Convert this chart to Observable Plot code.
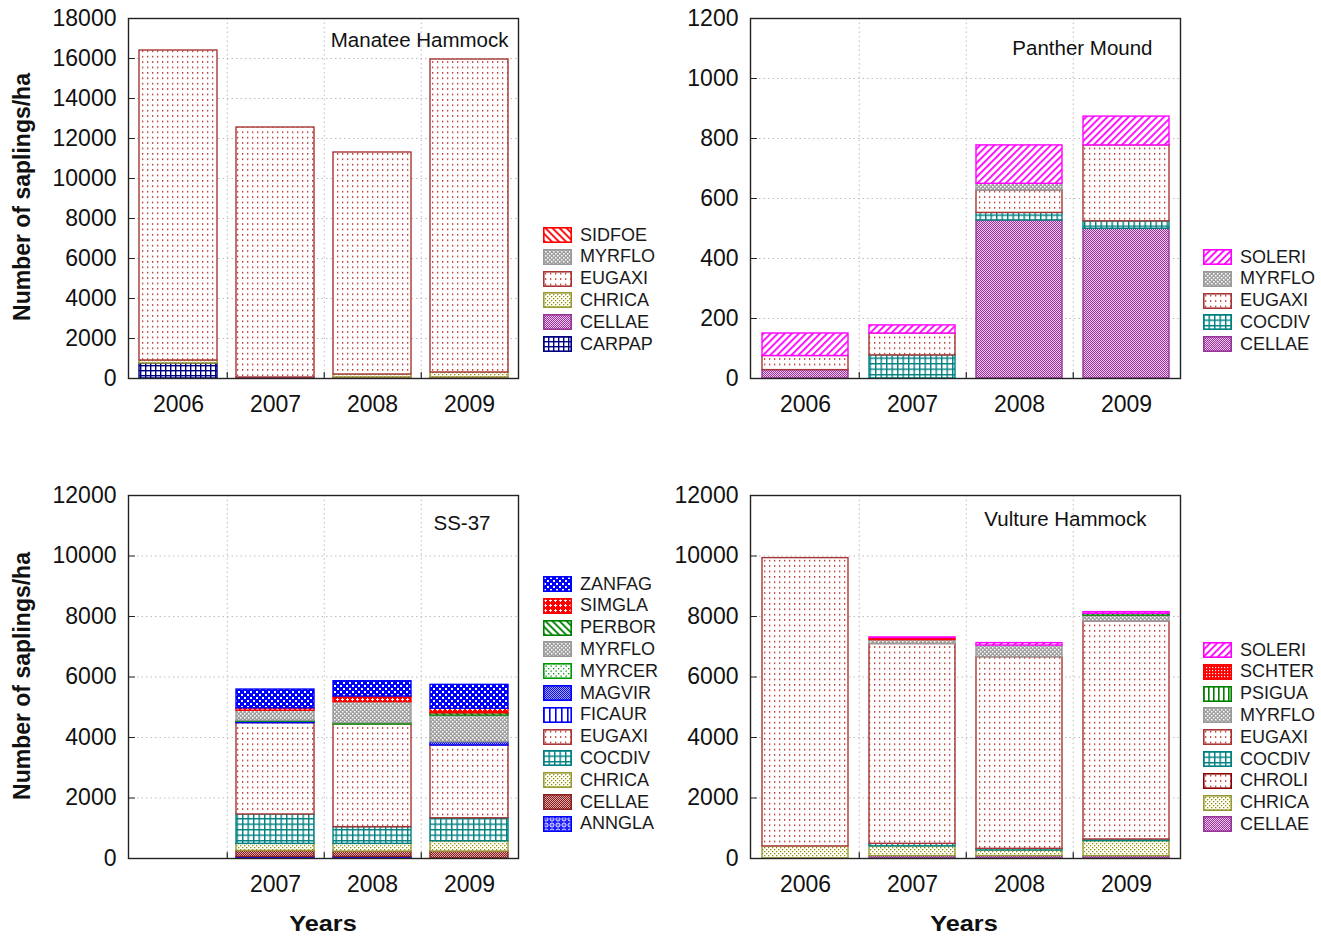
<!DOCTYPE html>
<html><head><meta charset="utf-8">
<script src="https://cdn.jsdelivr.net/npm/d3@7"></script>
<script src="https://cdn.jsdelivr.net/npm/@observablehq/plot@0.6"></script>
<style>
body{margin:0;background:#fff;font-family:"Liberation Sans",Arial,sans-serif;}
#root{position:relative;width:1321px;height:938px;overflow:hidden;}
.panel{position:absolute;}
.lrow{position:absolute;height:16px;display:flex;align-items:center;font-size:18px;color:#1a1a1a;white-space:nowrap;}
.lrow svg{margin-right:8px;flex:none;}
.ytitle{position:absolute;font-weight:bold;font-size:23px;color:#111;transform:translate(-50%,-50%) rotate(-90deg);white-space:nowrap;}
.xtitle{position:absolute;font-weight:bold;font-size:22px;color:#111;transform:translate(-50%,-50%) scaleX(1.15);white-space:nowrap;}
</style></head>
<body>
<svg width="0" height="0" style="position:absolute"><defs id="pdefs"></defs></svg>
<div id="root"></div>
<script>
// ---------------- DATA ----------------
const years = ["2006", "2007", "2008", "2009"];

// Manatee Hammock (stack order bottom -> top)
const manateeSpecies = ["CARPAP", "CELLAE", "CHRICA", "EUGAXI", "MYRFLO", "SIDFOE"];
const manateeValues = [
  [750, 0, 0, 0],          // CARPAP
  [0, 50, 50, 50],         // CELLAE
  [150, 0, 150, 250],      // CHRICA
  [15500, 12500, 11100, 15650], // EUGAXI
  [0, 0, 0, 0],            // MYRFLO
  [0, 0, 0, 0]             // SIDFOE
];
const manateeTicks = [0, 2000, 4000, 6000, 8000, 10000, 12000, 14000, 16000, 18000];

// Panther Mound
const pantherSpecies = ["CELLAE", "COCDIV", "EUGAXI", "MYRFLO", "SOLERI"];
const pantherValues = [
  [28, 0, 527, 499],   // CELLAE
  [0, 77, 25, 25],     // COCDIV
  [47, 73, 75, 253],   // EUGAXI
  [0, 0, 22, 0],       // MYRFLO
  [75, 27, 128, 96]    // SOLERI
];
const pantherTicks = [0, 200, 400, 600, 800, 1000, 1200];

// SS-37
const ssSpecies = ["ANNGLA", "CELLAE", "CHRICA", "COCDIV", "EUGAXI", "FICAUR", "MAGVIR", "MYRCER", "MYRFLO", "PERBOR", "SIMGLA", "ZANFAG"];
const ssValues = [
  [0, 50, 50, 0],        // ANNGLA
  [0, 200, 180, 230],    // CELLAE
  [0, 235, 255, 340],    // CHRICA
  [0, 970, 550, 760],    // COCDIV
  [0, 3020, 3395, 2405], // EUGAXI
  [0, 0, 0, 0],          // FICAUR
  [0, 50, 0, 110],       // MAGVIR
  [0, 30, 45, 0],        // MYRCER
  [0, 330, 695, 880],    // MYRFLO
  [0, 0, 0, 75],         // PERBOR
  [0, 80, 185, 150],     // SIMGLA
  [0, 620, 505, 790]     // ZANFAG
];
const ssTicks = [0, 2000, 4000, 6000, 8000, 10000, 12000];
const ssYearLabels = ["", "2007", "2008", "2009"];

// Vulture Hammock
const vultureSpecies = ["CELLAE", "CHRICA", "CHROLI", "COCDIV", "EUGAXI", "MYRFLO", "PSIGUA", "SCHTER", "SOLERI"];
const vultureValues = [
  [0, 80, 80, 80],          // CELLAE
  [400, 320, 185, 495],     // CHRICA
  [0, 0, 0, 0],             // CHROLI
  [0, 85, 55, 55],          // COCDIV
  [9530, 6605, 6335, 7205], // EUGAXI
  [0, 130, 385, 195],       // MYRFLO
  [0, 0, 0, 60],            // PSIGUA
  [0, 70, 0, 0],            // SCHTER
  [0, 15, 80, 55]           // SOLERI
];
const vultureTicks = [0, 2000, 4000, 6000, 8000, 10000, 12000];

// ---------------- STYLES ----------------
const FONT = '"Liberation Sans", Arial, sans-serif';
const patterns = {
  EUGAXI: `<pattern id="p-EUGAXI" width="5" height="5.4" patternUnits="userSpaceOnUse"><rect width="5" height="5.4" fill="#fff"/><rect x="2" y="2" width="1.3" height="1.3" fill="#b00000"/></pattern>`,
  CHROLI: `<pattern id="p-CHROLI" width="5" height="5.4" patternUnits="userSpaceOnUse"><rect width="5" height="5.4" fill="#fff"/><rect x="2" y="2" width="1.3" height="1.3" fill="#b00000"/></pattern>`,
  CHRICA: `<pattern id="p-CHRICA" width="4" height="4" patternUnits="userSpaceOnUse"><rect width="4" height="4" fill="#fff"/><rect x="0" y="0" width="1.3" height="1.3" fill="#8f8f00"/><rect x="2" y="2" width="1.3" height="1.3" fill="#8f8f00"/></pattern>`,
  CELLAE: `<pattern id="p-CELLAE" width="2" height="2" patternUnits="userSpaceOnUse"><rect width="2" height="2" fill="#ecc8ec"/><rect x="0" y="0" width="1" height="1" fill="#993399"/><rect x="1" y="1" width="1" height="1" fill="#993399"/></pattern>`,
  CELLAE_SS: `<pattern id="p-CELLAE_SS" width="2" height="2" patternUnits="userSpaceOnUse"><rect width="2" height="2" fill="#dcaaaa"/><rect x="0" y="0" width="1" height="1" fill="#8b1a1a"/><rect x="1" y="1" width="1" height="1" fill="#8b1a1a"/></pattern>`,
  CARPAP: `<pattern id="p-CARPAP" width="5" height="5" patternUnits="userSpaceOnUse"><rect width="5" height="5" fill="#fff"/><rect width="5" height="1.4" fill="#000080"/><rect width="1.4" height="5" fill="#000080"/></pattern>`,
  COCDIV: `<pattern id="p-COCDIV" width="5.5" height="5.5" patternUnits="userSpaceOnUse"><rect width="5.5" height="5.5" fill="#fff"/><rect width="5.5" height="1.4" fill="#008080"/><rect width="1.4" height="5.5" fill="#008080"/></pattern>`,
  SOLERI: `<pattern id="p-SOLERI" width="5" height="5" patternUnits="userSpaceOnUse" patternTransform="rotate(45)"><rect width="5" height="5" fill="#fff"/><rect width="1.8" height="5" fill="#ff00ff"/></pattern>`,
  SIDFOE: `<pattern id="p-SIDFOE" width="5" height="5" patternUnits="userSpaceOnUse" patternTransform="rotate(-45)"><rect width="5" height="5" fill="#fff"/><rect width="1.8" height="5" fill="#ff0000"/></pattern>`,
  MYRFLO: `<pattern id="p-MYRFLO" width="4" height="4" patternUnits="userSpaceOnUse"><rect width="4" height="4" fill="#a0a0a0"/><rect x="0" y="0" width="1.5" height="1.5" fill="#fff"/><rect x="2" y="2" width="1.5" height="1.5" fill="#fff"/></pattern>`,
  ZANFAG: `<pattern id="p-ZANFAG" width="6" height="6" patternUnits="userSpaceOnUse"><rect width="6" height="6" fill="#0000ff"/><rect x="1" y="1" width="2" height="2" fill="#fff"/><rect x="4" y="4" width="2" height="2" fill="#fff"/></pattern>`,
  SIMGLA: `<pattern id="p-SIMGLA" width="5" height="5" patternUnits="userSpaceOnUse"><rect width="5" height="5" fill="#ff0000"/><rect x="2" y="1" width="1" height="3" fill="#fff"/><rect x="1" y="2" width="3" height="1" fill="#fff"/></pattern>`,
  PERBOR: `<pattern id="p-PERBOR" width="5" height="5" patternUnits="userSpaceOnUse" patternTransform="rotate(-45)"><rect width="5" height="5" fill="#fff"/><rect width="1.8" height="5" fill="#008000"/></pattern>`,
  MYRCER: `<pattern id="p-MYRCER" width="5" height="5" patternUnits="userSpaceOnUse"><rect width="5" height="5" fill="#fff"/><rect x="0" y="0" width="1.3" height="1.3" fill="#009900"/><rect x="2.5" y="2.5" width="1.3" height="1.3" fill="#009900"/></pattern>`,
  MAGVIR: `<pattern id="p-MAGVIR" width="2" height="2" patternUnits="userSpaceOnUse"><rect width="2" height="2" fill="#a0a0ff"/><rect x="0" y="0" width="1" height="1" fill="#1010e0"/><rect x="1" y="1" width="1" height="1" fill="#1010e0"/></pattern>`,
  FICAUR: `<pattern id="p-FICAUR" width="6" height="6" patternUnits="userSpaceOnUse"><rect width="6" height="6" fill="#fff"/><rect width="1.6" height="6" fill="#0000ff"/></pattern>`,
  ANNGLA: `<pattern id="p-ANNGLA" width="6" height="6" patternUnits="userSpaceOnUse"><rect width="6" height="6" fill="#2020ff"/><circle cx="3" cy="3" r="2" fill="none" stroke="#fff" stroke-width="0.9"/><rect x="2.5" y="2.5" width="1" height="1" fill="#fff"/></pattern>`,
  SCHTER: `<pattern id="p-SCHTER" width="3" height="3" patternUnits="userSpaceOnUse"><rect width="3" height="3" fill="#ff0000"/><rect x="0" y="0" width="1.2" height="1.2" fill="#fff"/></pattern>`,
  PSIGUA: `<pattern id="p-PSIGUA" width="5" height="5" patternUnits="userSpaceOnUse"><rect width="5" height="5" fill="#fff"/><rect width="1.6" height="5" fill="#008000"/></pattern>`
};
const borders = {
  EUGAXI: "#a83535", CHROLI: "#8b0000", CHRICA: "#999933", CELLAE: "#993399", CELLAE_SS: "#8b2222",
  CARPAP: "#000080", COCDIV: "#008080", SOLERI: "#ff00ff", SIDFOE: "#ff0000", MYRFLO: "#999999",
  ZANFAG: "#0000ff", SIMGLA: "#ff0000", PERBOR: "#008000", MYRCER: "#009900", MAGVIR: "#0000ff",
  FICAUR: "#0000ff", ANNGLA: "#0000ff", SCHTER: "#ff0000", PSIGUA: "#008000"
};
document.getElementById("pdefs").innerHTML = Object.values(patterns).join("");

const panels = [
  {title: "Manatee Hammock", species: manateeSpecies, values: manateeValues, ticks: manateeTicks, labels: years,
   left: 0, top: 0, width: 520, height: 420, tdx: -10, tdy: 22, lx: 543, ly: 235, styleMap: {}},
  {title: "Panther Mound", species: pantherSpecies, values: pantherValues, ticks: pantherTicks, labels: years,
   left: 622, top: 0, width: 560, height: 420, tdx: -28, tdy: 30, lx: 1203, ly: 257, styleMap: {}},
  {title: "SS-37", species: ssSpecies, values: ssValues, ticks: ssTicks, labels: ssYearLabels,
   left: 0, top: 477, width: 520, height: 423, tdx: -28, tdy: 28, lx: 543, ly: 584, styleMap: {CELLAE: "CELLAE_SS"}},
  {title: "Vulture Hammock", species: vultureSpecies, values: vultureValues, ticks: vultureTicks, labels: years,
   left: 622, top: 477, width: 560, height: 423, tdx: -34, tdy: 24, lx: 1203, ly: 650, styleMap: {}}
];

const tickRight = {draw(ctx, l) { ctx.moveTo(0, 0); ctx.lineTo(l, 0); }};
const tickUp = {draw(ctx, l) { ctx.moveTo(0, 0); ctx.lineTo(0, -l); }};
const root = document.getElementById("root");
const ML = 128, MR = 2, MT = 18, MB = 42;

for (const p of panels) {
  const key = s => p.styleMap[s] || s;
  const data = [];
  p.species.forEach((s, i) => years.forEach((y, j) => {
    const v = p.values[i][j];
    if (v > 0) data.push({year: y, species: s, value: v, fill: `url(#p-${key(s)})`, stroke: borders[key(s)]});
  }));
  const W = p.width - ML - MR;
  const step = W / years.length;
  const bounds = years.slice(0, -1);
  const plot = Plot.plot({
    width: p.width, height: p.height,
    marginLeft: ML, marginRight: MR, marginTop: MT, marginBottom: MB,
    style: {fontFamily: FONT, color: "#111", background: "transparent", overflow: "visible"},
    x: {type: "band", domain: years, paddingInner: 0.2, paddingOuter: 0.1, label: null},
    y: {domain: [0, p.ticks[p.ticks.length - 1]], label: null},
    color: {type: "identity"},
    marks: [
      Plot.gridY(p.ticks, {stroke: "#bdbdbd", strokeOpacity: 1, strokeDasharray: "1.5,3"}),
      Plot.ruleX(bounds, {x: d => d, dx: step / 2, stroke: "#bdbdbd", strokeDasharray: "1.5,3"}),
      Plot.barY(data, {x: "year", y: "value", z: "species", fill: "fill", stroke: "stroke", strokeWidth: 1.4}),
      Plot.frame({stroke: "#222", strokeWidth: 1.4}),
      Plot.vector(p.ticks, {y: d => d, frameAnchor: "left", length: 6, anchor: "start", shape: tickRight, stroke: "#222", strokeWidth: 1.2}),
      Plot.vector(bounds, {x: d => d, frameAnchor: "bottom", dx: step / 2, length: 6, anchor: "start", shape: tickUp, stroke: "#222", strokeWidth: 1.2}),
      Plot.axisY(p.ticks, {tickSize: 0, tickPadding: 12, fontSize: 23, tickFormat: d => String(d)}),
      Plot.axisX({tickSize: 0, tickPadding: 17, fontSize: 23, tickFormat: d => p.labels[years.indexOf(d)]}),
      Plot.text([p.title], {text: d => d, frameAnchor: "top-right", dx: p.tdx, dy: p.tdy, fontSize: 20.5, textAnchor: "end", lineAnchor: "middle", fill: "#111"})
    ]
  });
  plot.classList.add("panel");
  plot.style.left = p.left + "px";
  plot.style.top = p.top + "px";
  root.appendChild(plot);

  // legend (top -> bottom is reverse of the stack order)
  const leg = p.species.slice().reverse();
  leg.forEach((s, i) => {
    const row = document.createElement("div");
    row.className = "lrow";
    row.style.left = p.lx + "px";
    row.style.top = (p.ly + i * 21.8 - 8) + "px";
    row.innerHTML = `<svg width="29" height="16"><rect x="0.8" y="0.8" width="27.4" height="14.4" fill="url(#p-${key(s)})" stroke="${borders[key(s)]}" stroke-width="1.6"/></svg><span>${s}</span>`;
    root.appendChild(row);
  });
}

const addText = (cls, txt, x, y) => {
  const d = document.createElement("div");
  d.className = cls; d.textContent = txt;
  d.style.left = x + "px"; d.style.top = y + "px";
  root.appendChild(d);
};
addText("ytitle", "Number of saplings/ha", 22, 197);
addText("ytitle", "Number of saplings/ha", 22, 676);
addText("xtitle", "Years", 323, 924);
addText("xtitle", "Years", 964, 924);
</script>
</body></html>
